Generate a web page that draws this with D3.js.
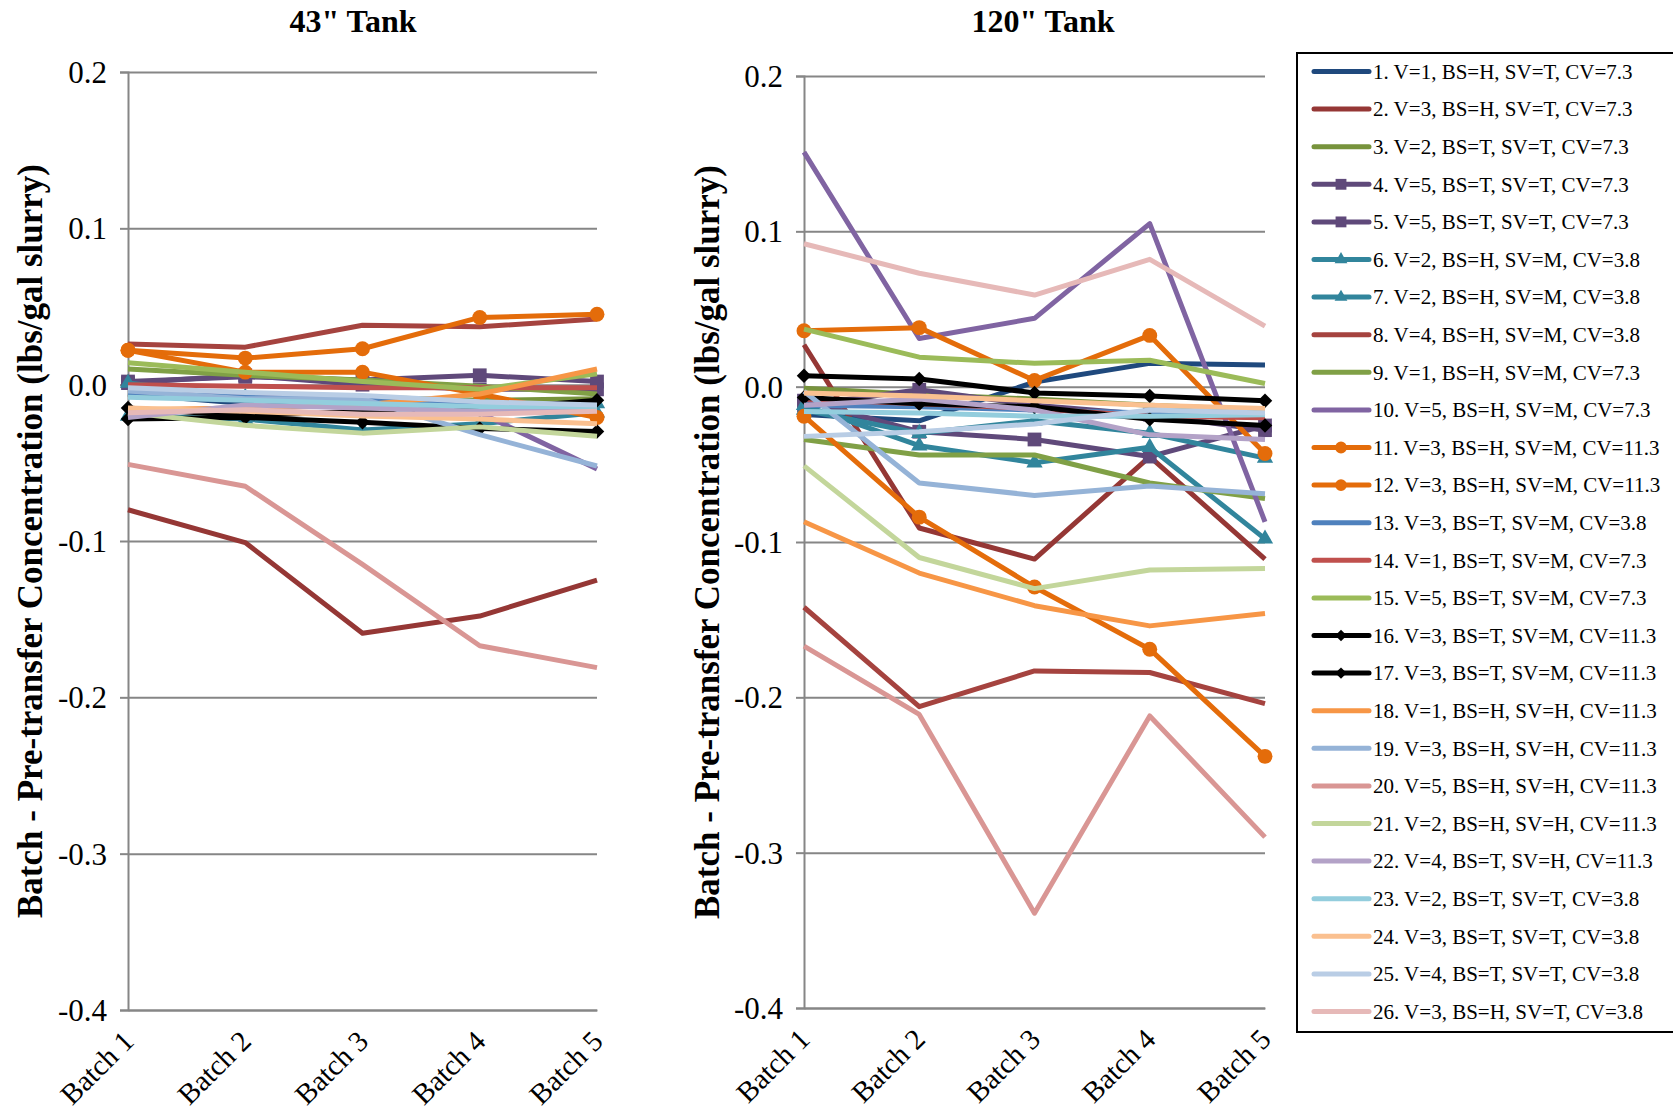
<!DOCTYPE html>
<html><head><meta charset="utf-8">
<script src="https://cdn.jsdelivr.net/npm/d3@7"></script>
<style>body{margin:0;background:#fff}svg{display:block}</style>
</head><body>
<svg id="c" width="1673" height="1114"></svg>
<script>
const categories = ["Batch 1","Batch 2","Batch 3","Batch 4","Batch 5"];
const yTicks = [0.2,0.1,0.0,-0.1,-0.2,-0.3,-0.4];
const panelTitles = ["43\" Tank","120\" Tank"];
const yAxisTitle = "Batch - Pre-transfer Concentration (lbs/gal slurry)";
const seriesNames = [
 "1. V=1, BS=H, SV=T, CV=7.3","2. V=3, BS=H, SV=T, CV=7.3","3. V=2, BS=T, SV=T, CV=7.3",
 "4. V=5, BS=T, SV=T, CV=7.3","5. V=5, BS=T, SV=T, CV=7.3","6. V=2, BS=H, SV=M, CV=3.8",
 "7. V=2, BS=H, SV=M, CV=3.8","8. V=4, BS=H, SV=M, CV=3.8","9. V=1, BS=H, SV=M, CV=7.3",
 "10. V=5, BS=H, SV=M, CV=7.3","11. V=3, BS=H, SV=M, CV=11.3","12. V=3, BS=H, SV=M, CV=11.3",
 "13. V=3, BS=T, SV=M, CV=3.8","14. V=1, BS=T, SV=M, CV=7.3","15. V=5, BS=T, SV=M, CV=7.3",
 "16. V=3, BS=T, SV=M, CV=11.3","17. V=3, BS=T, SV=M, CV=11.3","18. V=1, BS=H, SV=H, CV=11.3",
 "19. V=3, BS=H, SV=H, CV=11.3","20. V=5, BS=H, SV=H, CV=11.3","21. V=2, BS=H, SV=H, CV=11.3",
 "22. V=4, BS=T, SV=H, CV=11.3","23. V=2, BS=T, SV=T, CV=3.8","24. V=3, BS=T, SV=T, CV=3.8",
 "25. V=4, BS=T, SV=T, CV=3.8","26. V=3, BS=H, SV=T, CV=3.8"];
const seriesMarkers = ["none","none","none","square","square","triangle","triangle","none","none","none",
 "circle","circle","none","none","none","diamond","diamond","none","none","none","none","none","none","none","none","none"];
// 43" tank values, one row per series (Batch 1..5)
const tank43Values = [
 [-0.006,-0.012,-0.010,-0.013,-0.014],
 [-0.080,-0.101,-0.159,-0.148,-0.125],
 [-0.006,-0.008,-0.008,-0.010,-0.009],
 [ 0.002, 0.005, 0.003, 0.006, 0.002],
 [ 0.001, 0.006, 0.000,-0.003,-0.003],
 [ 0.001,-0.008,-0.012,-0.014,-0.012],
 [-0.020,-0.022,-0.029,-0.025,-0.018],
 [ 0.026, 0.024, 0.038, 0.037, 0.042],
 [ 0.010, 0.006, 0.003,-0.001,-0.006],
 [-0.003,-0.006,-0.009,-0.018,-0.054],
 [ 0.022, 0.017, 0.023, 0.043, 0.045],
 [ 0.022, 0.008, 0.008,-0.006,-0.021],
 [-0.005,-0.008,-0.010,-0.012,-0.013],
 [ 0.000,-0.001,-0.002,-0.002,-0.002],
 [ 0.014, 0.008, 0.002,-0.003, 0.007],
 [-0.015,-0.020,-0.017,-0.016,-0.010],
 [-0.022,-0.021,-0.024,-0.028,-0.030],
 [-0.016,-0.015,-0.013,-0.006, 0.010],
 [-0.004,-0.009,-0.009,-0.032,-0.052],
 [-0.051,-0.065,-0.115,-0.167,-0.181],
 [-0.018,-0.026,-0.031,-0.027,-0.033],
 [-0.021,-0.013,-0.015,-0.017,-0.016],
 [-0.008,-0.010,-0.012,-0.014,-0.014],
 [-0.015,-0.017,-0.020,-0.022,-0.025],
 [-0.002,-0.005,-0.007,-0.011,-0.013],
 [-0.018,-0.016,-0.019,-0.019,-0.017]];
// 120" tank values
const tank120Values = [
 [-0.018,-0.022, 0.003, 0.015, 0.014],
 [ 0.027,-0.091,-0.111,-0.045,-0.111],
 [-0.001,-0.005,-0.008,-0.012,-0.015],
 [-0.009,-0.029,-0.034,-0.045,-0.025],
 [-0.012,-0.002,-0.012,-0.018,-0.028],
 [-0.012,-0.038,-0.049,-0.039,-0.098],
 [-0.015,-0.030,-0.022,-0.030,-0.046],
 [-0.142,-0.206,-0.183,-0.184,-0.204],
 [-0.034,-0.044,-0.044,-0.062,-0.072],
 [ 0.151, 0.031, 0.044, 0.105,-0.087],
 [ 0.036, 0.038, 0.004, 0.033,-0.043],
 [-0.019,-0.084,-0.129,-0.169,-0.238],
 [-0.012,-0.013,-0.015,-0.017,-0.019],
 [-0.008,-0.011,-0.014,-0.019,-0.020],
 [ 0.037, 0.019, 0.015, 0.017, 0.002],
 [ 0.007, 0.005,-0.004,-0.006,-0.009],
 [-0.007,-0.011,-0.013,-0.021,-0.025],
 [-0.087,-0.120,-0.141,-0.154,-0.146],
 [-0.003,-0.062,-0.070,-0.064,-0.069],
 [-0.167,-0.211,-0.339,-0.212,-0.290],
 [-0.051,-0.110,-0.130,-0.118,-0.117],
 [-0.012,-0.008,-0.015,-0.031,-0.034],
 [-0.016,-0.017,-0.019,-0.019,-0.018],
 [-0.004,-0.006,-0.009,-0.012,-0.014],
 [-0.032,-0.029,-0.024,-0.015,-0.017],
 [ 0.092, 0.073, 0.059, 0.082, 0.039]];

// styles
const seriesColors = ["#1F497D","#953735","#77933C","#5F497A","#5F497A","#31859C","#31859C","#A5433F",
 "#80A046","#8064A2","#E46C0A","#E46C0A","#4F81BD","#C0504D","#9BBB59","#000000","#000000","#F79646",
 "#95B3D7","#D99694","#C3D69B","#B3A2C7","#93CDDD","#FAC090","#B9CDE5","#E6B9B8"];
const FONT = "'Liberation Serif','Times New Roman',serif";
const GRID = "#868686";

const svg = d3.select("#c");

function markerPath(type, small) {
  const k = small ? 0.62 : 1;
  if (type === "square") return d3.symbol(d3.symbolSquare, 190 * k)();
  if (type === "circle") return d3.symbol(d3.symbolCircle, 175 * k)();
  if (type === "triangle") return d3.symbol(d3.symbolTriangle, 115 * k)();
  if (type === "diamond") return d3.symbol(d3.symbolSquare, 105 * k)();
  return null;
}

function panel(values, box, title, titleX, labelX) {
  const x = d3.scalePoint().domain(categories).range([box.x0, box.x1]).padding(0);
  const y = d3.scaleLinear().domain([-0.4, 0.2]).range([box.y1, box.y0]);
  const g = svg.append("g");

  // gridlines
  g.append("g").attr("transform", `translate(${box.x0},0)`)
    .call(d3.axisLeft(y).tickValues(yTicks).tickSize(-(box.x1 - box.x0)).tickFormat(""))
    .call(s => s.select(".domain").remove())
    .call(s => s.selectAll("line").attr("stroke", GRID).attr("stroke-width", 2));

  // y axis
  g.append("g").attr("transform", `translate(${box.x0},0)`)
    .call(d3.axisLeft(y).tickValues(yTicks).tickSize(8).tickPadding(13).tickFormat(d => d.toFixed(1)))
    .call(s => s.select(".domain").attr("stroke", GRID).attr("stroke-width", 2))
    .call(s => s.selectAll("line").attr("stroke", GRID).attr("stroke-width", 2))
    .call(s => s.selectAll("text").attr("font-family", FONT).attr("font-size", 31).attr("fill", "#000").attr("dy", "0.34em"));

  // x axis
  g.append("g").attr("transform", `translate(0,${box.y1})`)
    .call(d3.axisBottom(x).tickSize(0))
    .call(s => s.select(".domain").attr("stroke", GRID).attr("stroke-width", 2))
    .call(s => s.selectAll("text").attr("font-family", FONT).attr("font-size", 29).attr("fill", "#000")
      .attr("x", 0).attr("y", 0).attr("dy", 0).attr("text-anchor", "end")
      .attr("transform", "translate(7,33) rotate(-45)"));

  // series
  const line = d3.line().x((d, i) => x(categories[i])).y(d => y(d));
  values.forEach((vals, si) => {
    g.append("path").datum(vals).attr("d", line).attr("fill", "none")
      .attr("stroke", seriesColors[si]).attr("stroke-width", 5).attr("stroke-linejoin", "round");
    const mp = markerPath(seriesMarkers[si], false);
    if (mp) {
      g.append("g").selectAll("path").data(vals).join("path")
        .attr("d", mp).attr("fill", seriesColors[si])
        .attr("transform", (d, i) => `translate(${x(categories[i])},${y(d)})` + (seriesMarkers[si] === "diamond" ? " rotate(45)" : ""));
    }
  });

  // title
  g.append("text").attr("x", titleX).attr("y", 32).attr("text-anchor", "middle")
    .attr("font-family", FONT).attr("font-size", 32).attr("font-weight", "bold").text(title);
  // y label
  g.append("text").attr("transform", `translate(${labelX},${(box.y0 + box.y1) / 2}) rotate(-90)`)
    .attr("text-anchor", "middle").attr("dy", "0.35em")
    .attr("font-family", FONT).attr("font-size", 35).attr("font-weight", "bold").text(yAxisTitle);
}

panel(tank43Values, {x0: 128, x1: 597, y0: 72, y1: 1010}, panelTitles[0], 353, 30);
panel(tank120Values, {x0: 804, x1: 1265, y0: 76, y1: 1008}, panelTitles[1], 1043, 707);

// legend
const lg = svg.append("g");
lg.append("rect").attr("x", 1297).attr("y", 53).attr("width", 420).attr("height", 979)
  .attr("fill", "#fff").attr("stroke", "#000").attr("stroke-width", 2);
seriesNames.forEach((name, i) => {
  const cy = 71.5 + i * 37.6;
  lg.append("line").attr("x1", 1314).attr("x2", 1369).attr("y1", cy).attr("y2", cy)
    .attr("stroke", seriesColors[i]).attr("stroke-width", 5).attr("stroke-linecap", "round");
  const mp = markerPath(seriesMarkers[i], true);
  if (mp) lg.append("path").attr("d", mp).attr("fill", seriesColors[i])
    .attr("transform", `translate(1341,${cy})` + (seriesMarkers[i] === "diamond" ? " rotate(45)" : ""));
  lg.append("text").attr("x", 1373).attr("y", cy).attr("dy", "0.35em")
    .attr("font-family", FONT).attr("font-size", 21).text(name);
});
</script>
</body></html>
